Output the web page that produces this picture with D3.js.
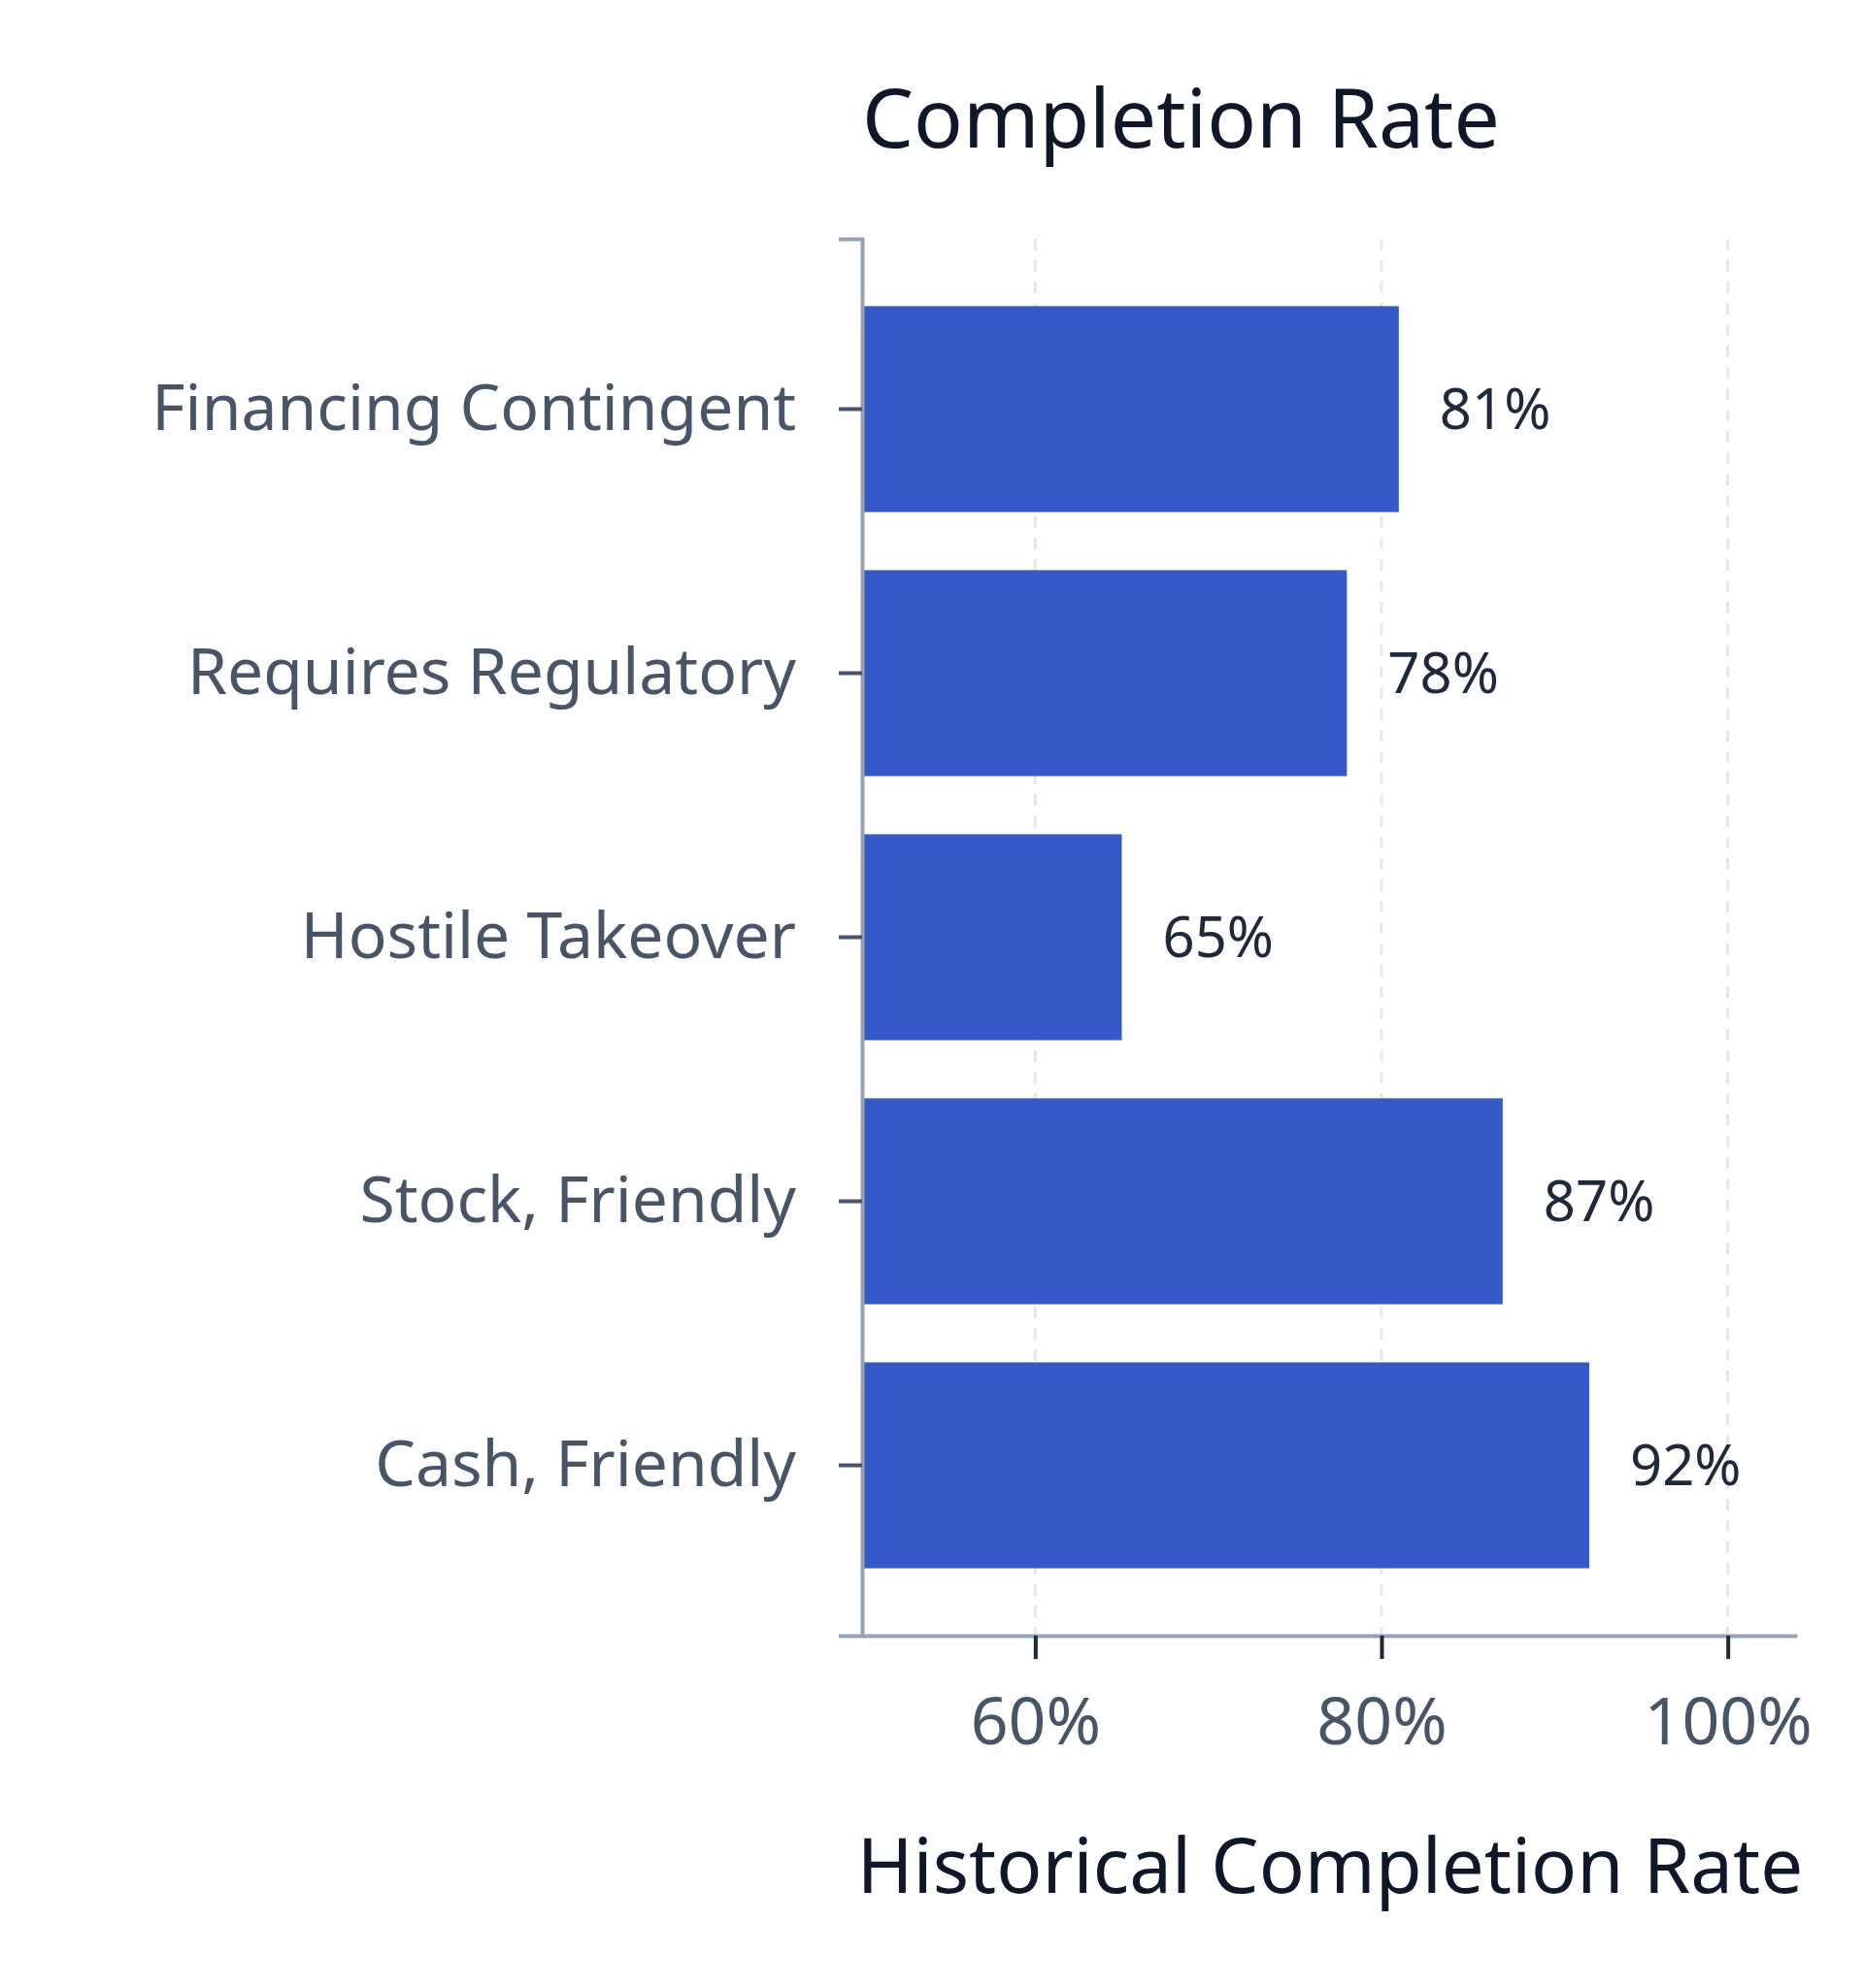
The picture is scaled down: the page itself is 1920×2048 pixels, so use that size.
<!DOCTYPE html>
<html><head><meta charset="utf-8">
<script src="https://cdn.jsdelivr.net/npm/d3@7"></script>
<style>body{margin:0;background:#fff}text{font-family:"Noto Sans",sans-serif}</style>
</head><body><div id="chart"></div>
<script>
const categories = ["Financing Contingent", "Requires Regulatory", "Hostile Takeover", "Stock, Friendly", "Cash, Friendly"];
const rates = [81, 78, 65, 87, 92];
const ticks = [60, 80, 100];

const width = 1920, height = 2048;
const mLeft = 888, mRight = 1851, mTop = 246, mBottom = 1685;

const svg = d3.select("#chart").append("svg")
  .attr("width", width).attr("height", height);

const x = d3.scaleLinear().domain([50, 104]).range([mLeft, mRight]);
const y = d3.scaleBand().domain(categories).range([mTop, mBottom])
  .paddingInner(0.22).paddingOuter(0.255);

// grid
svg.selectAll(".grid").data(ticks).join("line")
  .attr("x1", d => x(d)).attr("x2", d => x(d))
  .attr("y1", mTop).attr("y2", mBottom)
  .attr("stroke", "#e2e8f0").attr("stroke-width", 3).attr("stroke-dasharray", "12,10");

// bars
svg.selectAll(".bar").data(rates).join("rect")
  .attr("x", x(50)).attr("y", (d, i) => y(categories[i]))
  .attr("width", d => x(d) - x(50)).attr("height", y.bandwidth())
  .attr("fill", "#3659c8");

// value labels
svg.selectAll(".val").data(rates).join("text")
  .attr("x", d => x(d) + 42).attr("y", (d, i) => y(categories[i]) + y.bandwidth() / 2)
  .attr("dy", "0.35em").attr("font-size", 58).attr("fill", "#1e293b")
  .text(d => d + "%");

// y axis
const ya = svg.append("g").attr("transform", `translate(${mLeft},0)`)
  .call(d3.axisLeft(y).tickSize(24).tickPadding(44));
ya.select(".domain").attr("stroke", "#94a3b8").attr("stroke-width", 4);
ya.selectAll(".tick line").attr("stroke", "#475569").attr("stroke-width", 4);
ya.selectAll("text").attr("font-size", 66).attr("fill", "#475569").attr("font-family", "Noto Sans");

// x axis
const xa = svg.append("g").attr("transform", `translate(0,${mBottom})`)
  .call(d3.axisBottom(x).tickValues(ticks).tickFormat(d => d + "%").tickSize(24).tickPadding(40).tickSizeOuter(0));
xa.select(".domain").attr("stroke", "#94a3b8").attr("stroke-width", 4);
xa.selectAll(".tick line").attr("stroke", "#1e293b").attr("stroke-width", 4);
xa.selectAll("text").attr("font-size", 68).attr("fill", "#475569").attr("font-family", "Noto Sans");

svg.append("text").attr("x", mLeft).attr("y", 152)
  .attr("font-size", 84).attr("fill", "#0f172a").text("Completion Rate");

svg.append("text").attr("x", 1370).attr("y", 1950).attr("text-anchor", "middle")
  .attr("font-size", 78).attr("fill", "#0f172a").text("Historical Completion Rate");
</script></body></html>
